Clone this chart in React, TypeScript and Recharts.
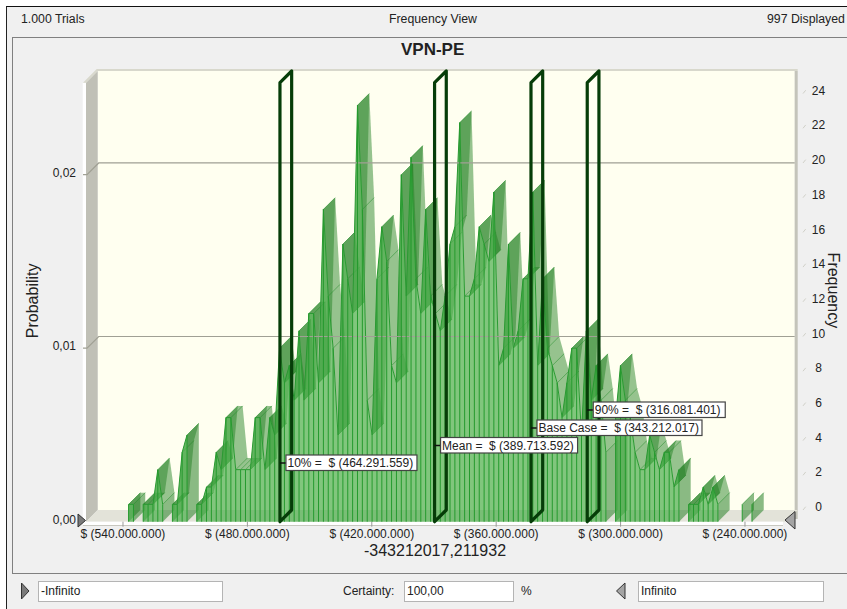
import { Area, Bar, ComposedChart, Line, ReferenceLine, XAxis, YAxis } from "recharts";

// frequency per histogram bin, left to right
const frequencies = [
  1, 1, 0, 1, 1, 1, 3, 1, 0, 1, 1, 4, 5, 0, 1, 1, 2, 2, 4, 3, 6, 6, 3, 3, 3, 3, 6, 6, 3, 6, 5, 10, 8, 9, 7, 11, 7, 12, 12,
  8, 18, 13, 10, 5, 16, 14, 12, 24, 18, 7, 5, 14, 17, 15, 9, 8, 20, 13, 21, 14, 12, 18, 13, 12, 11, 13, 16, 17, 23, 13,
  13, 14, 17, 16, 15, 19, 9, 10, 16, 10, 11, 14, 14, 19, 9, 14, 10, 9, 8, 6, 8, 10, 10, 5, 11, 7, 9, 7, 4, 0, 6, 9, 7, 6,
  4, 3, 3, 5, 4, 3, 4, 4, 2, 3, 0, 1, 1, 1, 2, 1, 2, 1, 0, 0, 0, 0, 1, 0, 1,
];
const TRIALS = 997;
const FIRST_BIN = -537300000;
const BIN_WIDTH = 2349000;

const xTicks = [-540000000, -480000000, -420000000, -360000000, -300000000, -240000000];
const probabilityTicks = [0, 0.01, 0.02];
const frequencyTicks = [0, 2, 4, 6, 8, 10, 12, 14, 16, 18, 20, 22, 24];
const gridProbabilities = [0.01, 0.02];

const markerValues = [-464291559, -389713592, -343212017, -316081401];
const markerTexts = [
  "10% =\u00a0 $ (464.291.559)",
  "Mean =\u00a0 $ (389.713.592)",
  "Base Case =\u00a0 $ (343.212.017)",
  "90% =\u00a0 $ (316.081.401)",
];
const markerBoxTops = [455, 437.5, 420, 402];
const markerBoxWidths = [131, 137, 165, 132];

const chartData = frequencies.map((freq, i) => ({
  x: FIRST_BIN + i * BIN_WIDTH,
  freq,
  front: freq > 0 ? freq : null,
  probability: freq / TRIALS,
}));

const W = 847;
const H = 609;
const PLOT_LEFT = 87;
const PLOT_RIGHT = 783;
const PLOT_TOP = 82.7;
const PLOT_BOTTOM = 521.7;
const DEPTH = 11.7;
const X_DOMAIN = [-557360000, -221660000];
const PX_PER_UNIT = (PLOT_RIGHT - PLOT_LEFT) / (X_DOMAIN[1] - X_DOMAIN[0]);
const FONT = "'Liberation Sans', Arial, sans-serif";

const pts = (list: number[][]) => list.map((p) => p.join(",")).join(" ");

// side surface of one bin: from its top edge back into the depth and over to the next bin
function RibbonShape(props: any) {
  const { x, y, width, height, index, payload } = props;
  const value = payload.freq;
  if (!value) return null;
  const cx = x + width / 2;
  const perFreq = height / value;
  const base = y + height;
  const next = frequencies[index + 1] ?? 0;
  const prev = frequencies[index - 1] ?? 0;
  const nx = cx + BIN_WIDTH * PX_PER_UNIT;
  const ny = base - next * perFreq;
  const wall = [
    [cx, y],
    [cx + DEPTH, y - DEPTH],
    [cx + DEPTH, base - DEPTH],
    [cx, base],
  ];
  return (
    <g>
      {next > 0 && (
        <polygon
          points={pts([
            [cx, y],
            [cx + DEPTH, y - DEPTH],
            [nx + DEPTH, ny - DEPTH],
            [nx, ny],
          ])}
          fill="#1f7f1f"
          fillOpacity={0.47}
        />
      )}
      {(next === 0 || prev === 0) && <polygon points={pts(wall)} fill="#1f7a1f" fillOpacity={0.52} />}
      <line x1={cx} y1={y} x2={cx + DEPTH} y2={y - DEPTH} stroke="#1f8a26" strokeOpacity={0.55} />
    </g>
  );
}

// vertical comb line at every bin of the front face
function CombDot(props: any) {
  const { cx, cy, key } = props;
  if (cy == null) return <g key={key} />;
  return <line key={key} x1={cx} y1={cy} x2={cx} y2={PLOT_BOTTOM} stroke="#259a2e" strokeWidth={1} />;
}

function gridShape(props: any) {
  const { x1, x2, y1 } = props;
  const y = y1;
  return (
    <polyline
      points={pts([
        [x1 - 4, y],
        [x1, y],
        [x1 + DEPTH, y - DEPTH],
        [Math.max(x1, x2) + DEPTH, y - DEPTH],
      ])}
      fill="none"
      stroke="#a0a094"
      strokeWidth={1.2}
    />
  );
}

function markerFrame(props: any) {
  const x = props.x1;
  const top = Math.min(props.y1, props.y2);
  const bottom = Math.max(props.y1, props.y2);
  return (
    <polygon
      points={pts([
        [x, bottom],
        [x, top],
        [x + DEPTH, top - DEPTH],
        [x + DEPTH, bottom - DEPTH],
      ])}
      fill="none"
      stroke="#063d08"
      strokeWidth={3.2}
      strokeLinejoin="round"
    />
  );
}

function markerLabel(i: number) {
  return function MarkerLabel(props: any) {
    const x = props.x1;
    const boxTop = markerBoxTops[i];
    const boxLeft = x + 6;
    return (
      <g>
        <line x1={x} y1={boxTop + 8} x2={boxLeft} y2={boxTop + 8} stroke="#111" strokeWidth={1.5} />
        <rect
          x={boxLeft}
          y={boxTop}
          width={markerBoxWidths[i]}
          height={15.5}
          fill="#fff"
          stroke="#444"
          strokeWidth={1.2}
        />
        <text x={boxLeft + 1.5} y={boxTop + 12} fontSize={12} fontFamily={FONT} fill="#222">
          {markerTexts[i]}
        </text>
      </g>
    );
  };
}

function ProbabilityTick(props: any) {
  const { x, y, payload } = props;
  return (
    <text x={x - 3} y={y + 2} textAnchor="end" fontSize={12} fontFamily={FONT} fill="#222">
      {payload.value.toFixed(2).replace(".", ",")}
    </text>
  );
}

function FrequencyTick(props: any) {
  const { x, y, payload } = props;
  return (
    <g>
      <line x1={x + 12} y1={y - DEPTH} x2={x + 14.7} y2={y - 15} stroke="#d0d0c8" />
      <text x={x + 27.5} y={y - 10.5} textAnchor="middle" fontSize={12} fontFamily={FONT} fill="#222">
        {payload.value}
      </text>
    </g>
  );
}

// back wall, side walls and floor of the 3D box
function Walls() {
  return (
    <svg width={W} height={H} style={{ position: "absolute", left: 0, top: 0 }}>
      <rect x={82.7} y={PLOT_TOP} width={3.5} height={PLOT_BOTTOM - PLOT_TOP} fill="#ffffff" />
      <polygon
        points={pts([
          [PLOT_LEFT + DEPTH - 1, PLOT_TOP - DEPTH],
          [PLOT_RIGHT + DEPTH, PLOT_TOP - DEPTH],
          [PLOT_RIGHT + DEPTH, PLOT_BOTTOM - DEPTH],
          [PLOT_LEFT + DEPTH - 1, PLOT_BOTTOM - DEPTH],
        ])}
        fill="#fffff0"
      />
      <polygon
        points={pts([
          [86, PLOT_TOP],
          [PLOT_LEFT + DEPTH - 1, PLOT_TOP - DEPTH],
          [PLOT_LEFT + DEPTH - 1, PLOT_BOTTOM - DEPTH],
          [86, PLOT_BOTTOM],
        ])}
        fill="#c0c0b6"
      />
      <polygon
        points={pts([
          [83, PLOT_TOP],
          [PLOT_LEFT + DEPTH - 2, PLOT_TOP - DEPTH - 2],
          [PLOT_RIGHT + DEPTH + 3, PLOT_TOP - DEPTH - 2],
          [PLOT_RIGHT + DEPTH + 3, PLOT_TOP - DEPTH],
          [PLOT_LEFT + DEPTH - 1, PLOT_TOP - DEPTH],
          [86, PLOT_TOP],
        ])}
        fill="#d8d8cc"
      />
      <rect
        x={PLOT_RIGHT + DEPTH}
        y={PLOT_TOP - DEPTH}
        width={3}
        height={PLOT_BOTTOM - PLOT_TOP + 9}
        fill="#c4c4ba"
      />
      <polygon
        points={pts([
          [86, PLOT_BOTTOM],
          [PLOT_LEFT + DEPTH - 1, PLOT_BOTTOM - DEPTH],
          [PLOT_RIGHT + DEPTH + 3, PLOT_BOTTOM - DEPTH],
          [PLOT_RIGHT + 3, PLOT_BOTTOM],
        ])}
        fill="#e3e3d9"
      />
      <rect x={83} y={PLOT_BOTTOM} width={PLOT_RIGHT - 83} height={3.4} fill="#ffffff" />
      <line x1={83} y1={PLOT_BOTTOM + 3.8} x2={PLOT_RIGHT} y2={PLOT_BOTTOM + 3.8} stroke="#c8c8c0" />
    </svg>
  );
}

function Handles() {
  return (
    <svg width={W} height={H} style={{ position: "absolute", left: 0, top: 0, pointerEvents: "none" }}>
      <polygon points="78,514 85.5,520.5 78,527" fill="#7a7a7a" stroke="#333" />
      <polygon points="785,520 795,511.5 795,529" fill="#a4a4a4" stroke="#333" />
      <polygon points="21.5,583 29,591 21.5,599" fill="#7a7a7a" stroke="#333" />
      <polygon points="625,583 616.5,591 625,599" fill="#a4a4a4" stroke="#333" />
    </svg>
  );
}

function TextAt({ left, top, children, style }: any) {
  return (
    <div style={{ position: "absolute", left, top, fontSize: 12, lineHeight: "14px", whiteSpace: "nowrap", color: "#222", ...style }}>
      {children}
    </div>
  );
}

function InputBox({ left, width, text }: any) {
  return (
    <div
      style={{
        position: "absolute",
        left,
        top: 581,
        width,
        height: 19,
        boxSizing: "content-box",
        background: "#fff",
        border: "1px solid #b4b4b4",
        fontSize: 12,
        lineHeight: "19px",
        paddingLeft: 2,
        color: "#222",
      }}
    >
      {text}
    </div>
  );
}

export default function App() {
  return (
    <div
      style={{
        position: "absolute",
        left: 0,
        top: 0,
        width: W,
        height: H,
        overflow: "hidden",
        background: "#ffffff",
        fontFamily: FONT,
      }}
    >
      <div
        style={{
          position: "absolute",
          left: 6,
          top: 6,
          width: W,
          height: H,
          background: "#f0f0f0",
          borderLeft: "1px solid #222",
          borderTop: "1.5px solid #111",
        }}
      />
      <div
        style={{
          position: "absolute",
          left: 12,
          top: 37,
          width: W,
          height: 535,
          border: "1px solid #808080",
        }}
      />
      <TextAt left={21} top={12} style={{ fontSize: 12.3 }}>1.000 Trials</TextAt>
      <TextAt left={389} top={12} style={{ fontSize: 12.3 }}>Frequency View</TextAt>
      <TextAt left={767} top={12} style={{ fontSize: 12.3 }}>997 Displayed</TextAt>
      <TextAt left={401} top={40} style={{ fontSize: 17, lineHeight: "19px", fontWeight: "bold" }}>
        VPN-PE
      </TextAt>
      <Walls />
      <div style={{ position: "absolute", left: 0, top: 0 }}>
        <ComposedChart
          width={W}
          height={H}
          data={chartData}
          margin={{ top: PLOT_TOP, right: 0, bottom: H - PLOT_BOTTOM - 30, left: 0 }}
        >
          <XAxis
            type="number"
            dataKey="x"
            domain={X_DOMAIN}
            ticks={xTicks}
            interval={0}
            height={30}
            axisLine={false}
            tickSize={5}
            tickMargin={3}
            tickLine={{ stroke: "#9a9a9a" }}
            tick={{ fill: "#222", fontSize: 12, fontFamily: FONT }}
            tickFormatter={(v: number) => "$ (" + Math.abs(v).toLocaleString("de-DE") + ")"}
            label={{
              value: "-343212017,211932",
              position: "insideBottom",
              offset: -4,
              fill: "#222",
              fontSize: 16,
              fontFamily: FONT,
            }}
          />
          <YAxis
            yAxisId="left"
            width={PLOT_LEFT}
            domain={[0, 0.0253]}
            ticks={probabilityTicks}
            interval={0}
            axisLine={false}
            tickLine={false}
            tick={<ProbabilityTick />}
            label={{
              value: "Probability",
              angle: -90,
              position: "insideLeft",
              offset: 32,
              dy: 36,
              fill: "#222",
              fontSize: 16,
              fontFamily: FONT,
            }}
          />
          <YAxis
            yAxisId="right"
            orientation="right"
            width={W - PLOT_RIGHT}
            domain={[0, 25.3]}
            ticks={frequencyTicks}
            interval={0}
            axisLine={false}
            tickLine={false}
            tick={<FrequencyTick />}
            label={{
              value: "Frequency",
              angle: 90,
              position: "insideRight",
              offset: 13,
              dy: 26,
              fill: "#222",
              fontSize: 16,
              fontFamily: FONT,
            }}
          />
          {gridProbabilities.map((p) => (
            <ReferenceLine key={p} yAxisId="left" y={p} shape={gridShape} />
          ))}
          <Line
            yAxisId="left"
            dataKey="probability"
            stroke="none"
            dot={false}
            activeDot={false}
            isAnimationActive={false}
          />
          <Bar
            yAxisId="right"
            dataKey="freq"
            barSize={1}
            shape={RibbonShape}
            isAnimationActive={false}
          />
          <Area
            yAxisId="right"
            dataKey="front"
            type="linear"
            fill="#4cae4c"
            fillOpacity={0.7}
            stroke="#2a9a32"
            strokeWidth={1}
            dot={CombDot}
            activeDot={false}
            isAnimationActive={false}
            {...({ zIndex: 350 } as any)}
          />
          {markerValues.map((v) => (
            <ReferenceLine key={v} yAxisId="right" x={v} shape={markerFrame} {...({ zIndex: 800 } as any)} />
          ))}
          {markerValues.map((v, i) => (
            <ReferenceLine
              key={"label" + v}
              yAxisId="right"
              x={v}
              shape={markerLabel(i)}
              {...({ zIndex: 810 } as any)}
            />
          ))}
        </ComposedChart>
      </div>
      <Handles />
      <InputBox left={38} width={181} text="-Infinito" />
      <TextAt left={343} top={584}>Certainty:</TextAt>
      <InputBox left={404} width={106} text="100,00" />
      <TextAt left={521} top={584}>%</TextAt>
      <InputBox left={638} width={182} text="Infinito" />
    </div>
  );
}
